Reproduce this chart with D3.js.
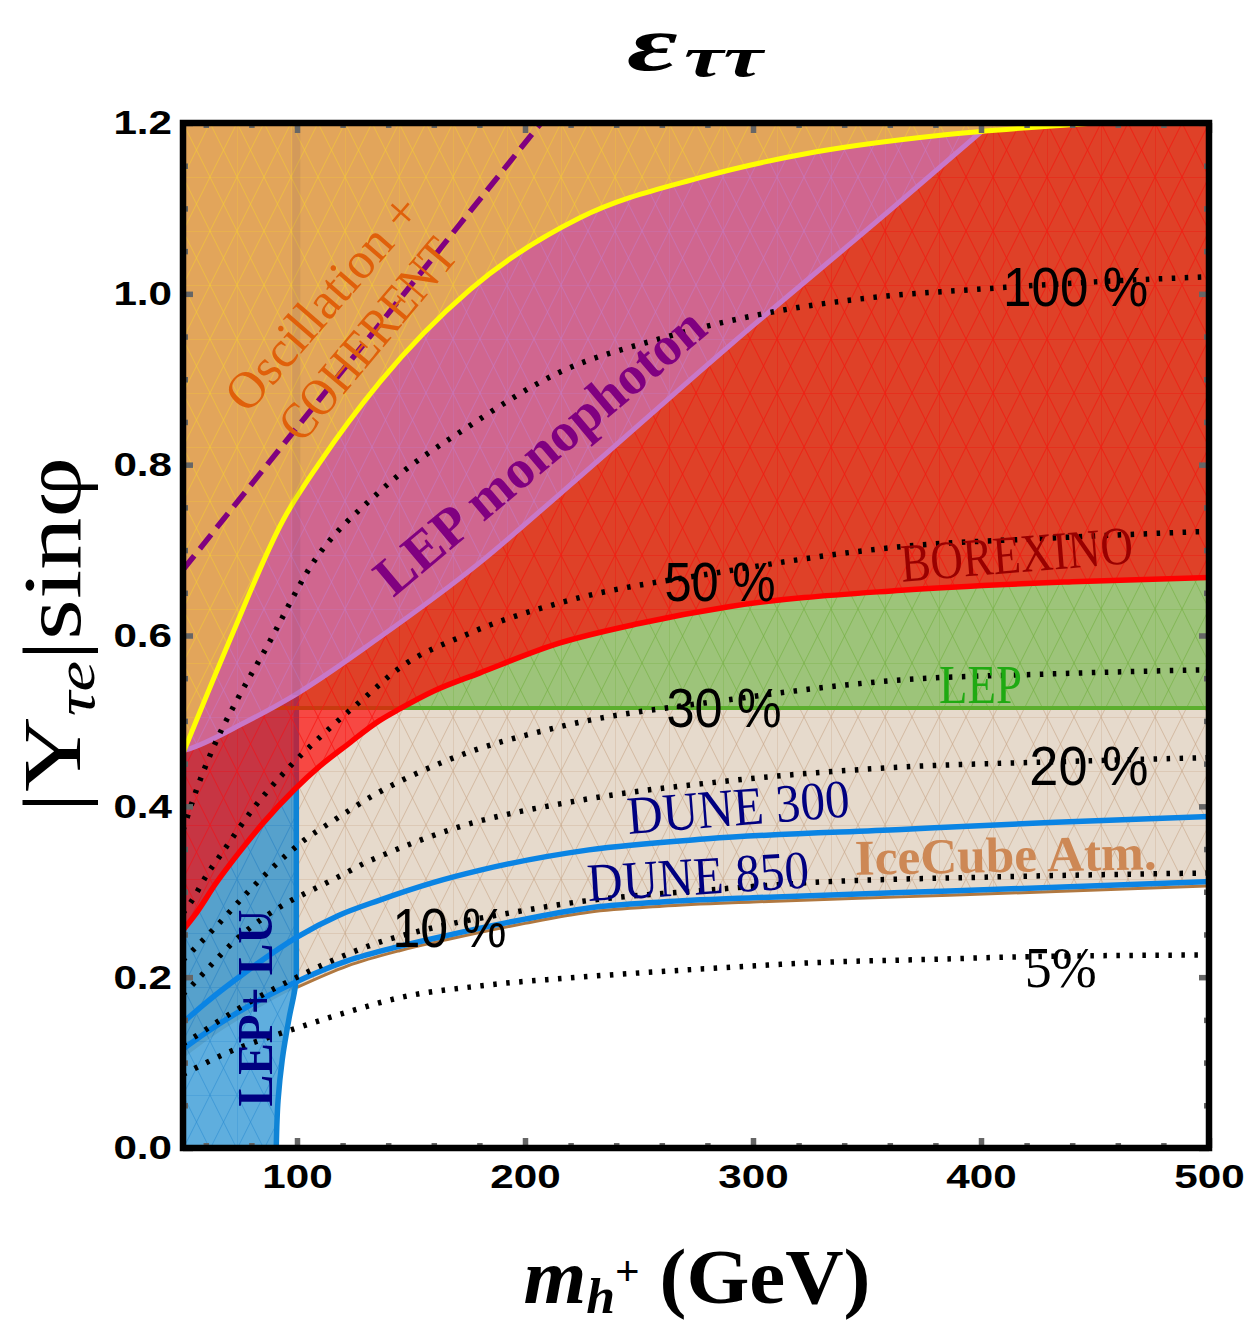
<!DOCTYPE html>
<html>
<head>
<meta charset="utf-8">
<script src="https://cdn.jsdelivr.net/npm/d3@7"></script>
<style>
  body { margin: 0; background: #fff; }
  svg { display: block; }
</style>
</head>
<body>
<svg id="chart" width="1250" height="1328"></svg>
<script>
// ---- values: [m_h+ (GeV), |Y| sin(phi)] ----
const oscCoherent = [[50,0.462],[70.6,0.595],[93.9,0.735],[110.1,0.803],[136.4,0.897],[175.9,1.005],[224.1,1.089],[276.8,1.136],[327.2,1.166],[383.3,1.186],[439,1.198],[450,1.2]];
const coherentDashed = [[50,0.677],[207,1.2]];
const lepMonophoton = [[50,0.465],[51.3,0.466],[77.7,0.499],[98.8,0.53],[134.7,0.595],[180,0.685],[215,0.765],[290,0.94],[361,1.1],[404.5,1.2]];
const borexino = [[50,0.255],[55,0.272],[65,0.312],[72,0.337],[85,0.38],[99,0.42],[110,0.447],[122,0.472],[136,0.5],[145,0.514],[160,0.535],[180,0.556],[215,0.591],[250,0.614],[290,0.634],[365,0.653],[440,0.663],[500,0.668]];
const lepLimit = 0.515;
const lepLU = [[90.9,0],[91.7,0.056],[93.5,0.103],[96.6,0.153],[99.3,0.19],[99.7,0.2],[99.7,1.2]];
const iceCube = [[50,0.105],[60,0.125],[78,0.156],[100,0.188],[122,0.213],[145,0.231],[166,0.244],[200,0.263],[228,0.276],[260,0.283],[300,0.288],[365,0.294],[430,0.3],[500,0.307]];
const dune300 = [[50,0.147],[60,0.17],[78,0.207],[100,0.247],[118,0.272],[136,0.29],[160,0.311],[180,0.325],[228,0.349],[280,0.362],[365,0.373],[430,0.381],[500,0.388]];
const dune850 = [[50,0.116],[60,0.135],[78,0.165],[100,0.195],[122,0.219],[145,0.236],[166,0.249],[200,0.268],[228,0.281],[260,0.288],[300,0.293],[365,0.299],[430,0.305],[500,0.312]];

// dotted contours of fixed percentage
const pct5 = [[50,0.086],[69,0.111],[100,0.1405],[122,0.159],[145,0.176],[181,0.19],[224,0.2],[280,0.21],[327,0.217],[380,0.221],[421,0.224],[500,0.226]];
const pct10 = [[50,0.122],[58,0.135],[63,0.144],[80,0.172],[100,0.2],[116,0.22],[133,0.238],[165,0.261],[193,0.275],[223,0.288],[280,0.302],[327,0.311],[400,0.317],[500,0.322]];
const pct20 = [[50,0.18],[53,0.188],[75,0.248],[99,0.292],[105,0.3],[120,0.32],[130,0.334],[136,0.341],[170,0.375],[224,0.407],[290,0.43],[365,0.446],[430,0.452],[500,0.457]];
const pct30 = [[50,0.22],[53,0.228],[63,0.255],[80,0.304],[88,0.325],[102,0.358],[117,0.385],[133,0.412],[166,0.454],[215,0.493],[290,0.525],[365,0.548],[430,0.555],[500,0.56]];
const pct50 = [[50,0.275],[54,0.29],[60.5,0.32],[67,0.345],[81,0.398],[97,0.447],[115,0.493],[133,0.535],[142,0.556],[176,0.603],[215,0.638],[290,0.676],[365,0.704],[430,0.714],[500,0.722]];
const pct100 = [[50,0.372],[56,0.42],[63,0.467],[74,0.526],[86,0.583],[107,0.685],[136,0.768],[176,0.846],[215,0.908],[260,0.948],[309,0.979],[350,0.995],[402,1.006],[450,1.014],[500,1.02]];

const xMajor = [100, 200, 300, 400, 500];
const xMinor = [60, 80, 120, 140, 160, 180, 220, 240, 260, 280, 320, 340, 360, 380, 420, 440, 460, 480];
const yMajor = [0, 0.2, 0.4, 0.6, 0.8, 1.0, 1.2];
const yMinor = [0.05, 0.1, 0.15, 0.25, 0.3, 0.35, 0.45, 0.5, 0.55, 0.65, 0.7, 0.75, 0.85, 0.9, 0.95, 1.05, 1.1, 1.15];

const serif = "'Liberation Serif','DejaVu Serif',serif";
const sans = "'Liberation Sans',Arial,sans-serif";

// annotation anchors in data units
const labels = [
  { t: "Oscillation +", m: 111.1, v: 0.99, rot: -49, size: 52, len: 268, fill: "#e0600a", font: serif, w: "normal" },
  { t: "COHERENT", m: 130.9, v: 0.947, rot: -50, size: 52, len: 246, fill: "#e0600a", font: serif, w: "normal" },
  { t: "LEP monophoton", m: 206.4, v: 0.816, rot: -40, size: 55, len: 413, fill: "#800080", font: serif, w: "bold" },
  { t: "BOREXINO", m: 415.6, v: 0.695, rot: -4.6, size: 54, len: 233, fill: "#990000", font: serif, w: "normal" },
  { t: "LEP", m: 399.8, v: 0.542, rot: 0, size: 54, len: 83, fill: "#1faa12", font: serif, w: "normal" },
  { t: "DUNE 300", m: 293.5, v: 0.399, rot: -4.5, size: 54, len: 223, fill: "#000080", font: serif, w: "normal" },
  { t: "DUNE 850", m: 275.9, v: 0.318, rot: -3.5, size: 54, len: 222, fill: "#000080", font: serif, w: "normal" },
  { t: "IceCube Atm.", m: 410.8, v: 0.343, rot: -1, size: 50, len: 302, fill: "#cd8855", font: serif, w: "bold" },
  { t: "LEP+ LU", m: 81.6, v: 0.164, rot: -90, size: 50, len: 197, fill: "#000080", font: serif, w: "bold" },
  { t: "100 %", m: 441.5, v: 1.009, rot: 0, size: 56, len: 145, fill: "#000", font: sans, w: "normal" },
  { t: "50 %", m: 285.5, v: 0.663, rot: 0, size: 56, len: 111, fill: "#000", font: sans, w: "normal" },
  { t: "30 %", m: 287.3, v: 0.516, rot: 0, size: 56, len: 115, fill: "#000", font: sans, w: "normal" },
  { t: "20 %", m: 447.3, v: 0.448, rot: 0, size: 56, len: 119, fill: "#000", font: sans, w: "normal" },
  { t: "10 %", m: 166.9, v: 0.258, rot: 0, size: 56, len: 114, fill: "#000", font: sans, w: "normal" },
  { t: "5%", m: 435, v: 0.211, rot: 0, size: 58, len: 72, fill: "#000", font: serif, w: "normal" }
];

const svg = d3.select("#chart");
const x = d3.scaleLinear().domain([50, 500]).range([183, 1209]);
const y = d3.scaleLinear().domain([0, 1.2]).range([1148, 123]);

const defs = svg.append("defs");
defs.append("clipPath").attr("id", "plotclip")
  .append("rect")
  .attr("x", x(50)).attr("y", y(1.2))
  .attr("width", x(500) - x(50)).attr("height", y(0) - y(1.2));

//mesh texture like the exported triangulation
function meshPattern(id, color) {
  const p = defs.append("pattern").attr("id", id)
    .attr("patternUnits", "userSpaceOnUse")
    .attr("x", x(50)).attr("y", y(1.2))
    .attr("width", 54).attr("height", 54);
  p.append("path")
    .attr("d", "M0,0H54M0,0V54M0,54L27,0L54,54M0,0L27,54L54,0")
    .attr("fill", "none").attr("stroke", color)
    .attr("stroke-width", 1).attr("opacity", 0.6);
}
meshPattern("m-beige", "#c4a284");
meshPattern("m-green", "#6fae3c");
meshPattern("m-blue", "#2a8ad0");
meshPattern("m-red", "#ff1010");
meshPattern("m-pink", "#c47ac4");
meshPattern("m-orange", "#f6cc30");

const g = svg.append("g").attr("clip-path", "url(#plotclip)");

const areaAbove = d3.area()
  .x(d => x(d[0])).y0(d => y(d[1])).y1(y(1.2))
  .curve(d3.curveMonotoneX);
const line = d3.line()
  .x(d => x(d[0])).y(d => y(d[1]))
  .curve(d3.curveMonotoneX);
const luArea = d3.area()
  .y(d => y(d[1])).x0(x(50)).x1(d => x(d[0]))
  .curve(d3.curveMonotoneY);
const luLine = d3.line()
  .x(d => x(d[0])).y(d => y(d[1]))
  .curve(d3.curveMonotoneY);
const flat = [[50, lepLimit], [500, lepLimit]];

function region(path, fill, mesh) {
  g.append("path").attr("d", path).attr("fill", fill);
  g.append("path").attr("d", path).attr("fill", `url(#${mesh})`);
}

//IceCube, LEP, LEP+LU, BOREXINO, monophoton, oscillation
region(areaAbove(iceCube), "#e6dacc", "m-beige");
g.append("path").attr("d", line(iceCube.filter(d => d[0] >= 100)))
  .attr("fill", "none").attr("stroke", "#b07840").attr("stroke-width", 3);
region(areaAbove(flat), "#9dc47a", "m-green");
region(luArea(lepLU), "rgba(9,131,205,0.65)", "m-blue");
g.append("path").attr("d", luLine(lepLU))
  .attr("fill", "none").attr("stroke", "#0f84d6").attr("stroke-width", 5.5);
g.append("path").attr("d", line(flat))
  .attr("fill", "none").attr("stroke", "#5caf2e").attr("stroke-width", 4);
region(areaAbove(borexino), "rgba(255,0,0,0.67)", "m-red");
g.append("path").attr("d", line(borexino))
  .attr("fill", "none").attr("stroke", "#ff0000").attr("stroke-width", 5.5);
region(areaAbove(lepMonophoton), "#d0668f", "m-pink");
g.append("path").attr("d", line(lepMonophoton))
  .attr("fill", "none").attr("stroke", "#c878c8").attr("stroke-width", 5);
region(areaAbove(oscCoherent), "#e2a55b", "m-orange");
g.append("path").attr("d", line(oscCoherent))
  .attr("fill", "none").attr("stroke", "#ffff00").attr("stroke-width", 5);

//faint LEP+LU edge showing through the upper regions
g.append("path")
  .attr("d", luLine(lepLU.filter(d => d[1] >= 0.2).map(d => [d[0], Math.max(d[1], 0.53)])))
  .attr("fill", "none").attr("stroke", "rgba(70,40,90,0.09)").attr("stroke-width", 8);

g.append("path").attr("d", line(coherentDashed))
  .attr("fill", "none").attr("stroke", "#800080").attr("stroke-width", 5.5)
  .attr("stroke-dasharray", "18,9");

[dune300, dune850].forEach(c => {
  g.append("path").attr("d", line(c))
    .attr("fill", "none").attr("stroke", "#0a84e4").attr("stroke-width", 5.5);
});

[pct5, pct10, pct20, pct30, pct50, pct100].forEach(c => {
  g.append("path").attr("d", line(c))
    .attr("fill", "none").attr("stroke", "#000").attr("stroke-width", 5.5)
    .attr("stroke-dasharray", "3.5,9.5");
});

//region and contour labels
labels.forEach(l => {
  svg.append("g")
    .attr("transform", `translate(${x(l.m)},${y(l.v)}) rotate(${l.rot})`)
    .append("text")
    .attr("text-anchor", "middle")
    .attr("dominant-baseline", "central")
    .attr("font-family", l.font)
    .attr("font-weight", l.w)
    .attr("font-size", l.size)
    .attr("fill", l.fill)
    .attr("textLength", l.len)
    .attr("lengthAdjust", "spacingAndGlyphs")
    .text(l.t);
});

//grey inward ticks on all four sides
function ticks(axis, values, size, transform) {
  svg.append("g").attr("transform", transform)
    .call(axis.tickValues(values).tickSize(size).tickFormat(""))
    .call(s => s.select(".domain").remove())
    .call(s => s.selectAll("line").attr("stroke", "#666").attr("stroke-width", 5.5));
}
ticks(d3.axisBottom(x), xMinor, -5, `translate(0,${y(0)})`);
ticks(d3.axisBottom(x), xMajor, -10, `translate(0,${y(0)})`);
ticks(d3.axisTop(x), xMinor, -5, `translate(0,${y(1.2)})`);
ticks(d3.axisTop(x), xMajor, -10, `translate(0,${y(1.2)})`);
ticks(d3.axisLeft(y), yMinor, -5, `translate(${x(50)},0)`);
ticks(d3.axisLeft(y), yMajor, -10, `translate(${x(50)},0)`);
ticks(d3.axisRight(y), yMinor, -5, `translate(${x(500)},0)`);
ticks(d3.axisRight(y), yMajor, -10, `translate(${x(500)},0)`);

//frame
svg.append("rect")
  .attr("x", x(50)).attr("y", y(1.2))
  .attr("width", x(500) - x(50)).attr("height", y(0) - y(1.2))
  .attr("fill", "none").attr("stroke", "#000").attr("stroke-width", 6.5);

//tick labels
const xAxis = svg.append("g").attr("transform", `translate(0,${y(0)})`)
  .call(d3.axisBottom(x).tickValues(xMajor).tickSize(0).tickPadding(16).tickFormat(d3.format("d")));
const yAxis = svg.append("g").attr("transform", `translate(${x(50)},0)`)
  .call(d3.axisLeft(y).tickValues(yMajor).tickSize(0).tickPadding(11).tickFormat(d3.format(".1f")));
[xAxis, yAxis].forEach(a => {
  a.select(".domain").remove();
  a.selectAll("text")
    .attr("font-family", sans).attr("font-weight", "bold").attr("font-size", 34).attr("fill", "#000")
    .attr("textLength", function () { return this.getComputedTextLength() * 1.24; })
    .attr("lengthAdjust", "spacingAndGlyphs");
});

//title
const title = svg.append("text")
  .attr("x", 695).attr("y", 70)
  .attr("text-anchor", "middle")
  .attr("font-family", serif).attr("font-weight", "bold").attr("font-style", "italic")
  .attr("textLength", 136).attr("lengthAdjust", "spacingAndGlyphs");
title.append("tspan").attr("font-size", 78).text("\u03B5");
title.append("tspan").attr("font-size", 56).attr("dy", 6).attr("dx", 4).text("\u03C4\u03C4");

//y label
const yl = svg.append("text")
  .attr("transform", "translate(80,635) rotate(-90)")
  .attr("text-anchor", "middle")
  .attr("font-family", serif)
  .attr("textLength", 356).attr("lengthAdjust", "spacingAndGlyphs");
yl.append("tspan").attr("font-size", 82).text("|Y");
yl.append("tspan").attr("font-size", 54).attr("font-style", "italic").attr("dy", 14).text("\u03C4e");
yl.append("tspan").attr("font-size", 82).attr("dy", -14).text("|sin\u03C6");

//x label
const xl = svg.append("text")
  .attr("x", 697).attr("y", 1303)
  .attr("text-anchor", "middle")
  .attr("font-family", serif).attr("font-weight", "bold")
  .attr("textLength", 347).attr("lengthAdjust", "spacingAndGlyphs");
xl.append("tspan").attr("font-size", 78).attr("font-style", "italic").text("m");
xl.append("tspan").attr("font-size", 50).attr("font-style", "italic").attr("dy", 10).text("h");
xl.append("tspan").attr("font-size", 40).attr("font-family", sans).attr("font-weight", "normal").attr("dy", -28).text("+");
xl.append("tspan").attr("font-size", 78).attr("dy", 18).text(" (GeV)");
</script>
</body>
</html>
